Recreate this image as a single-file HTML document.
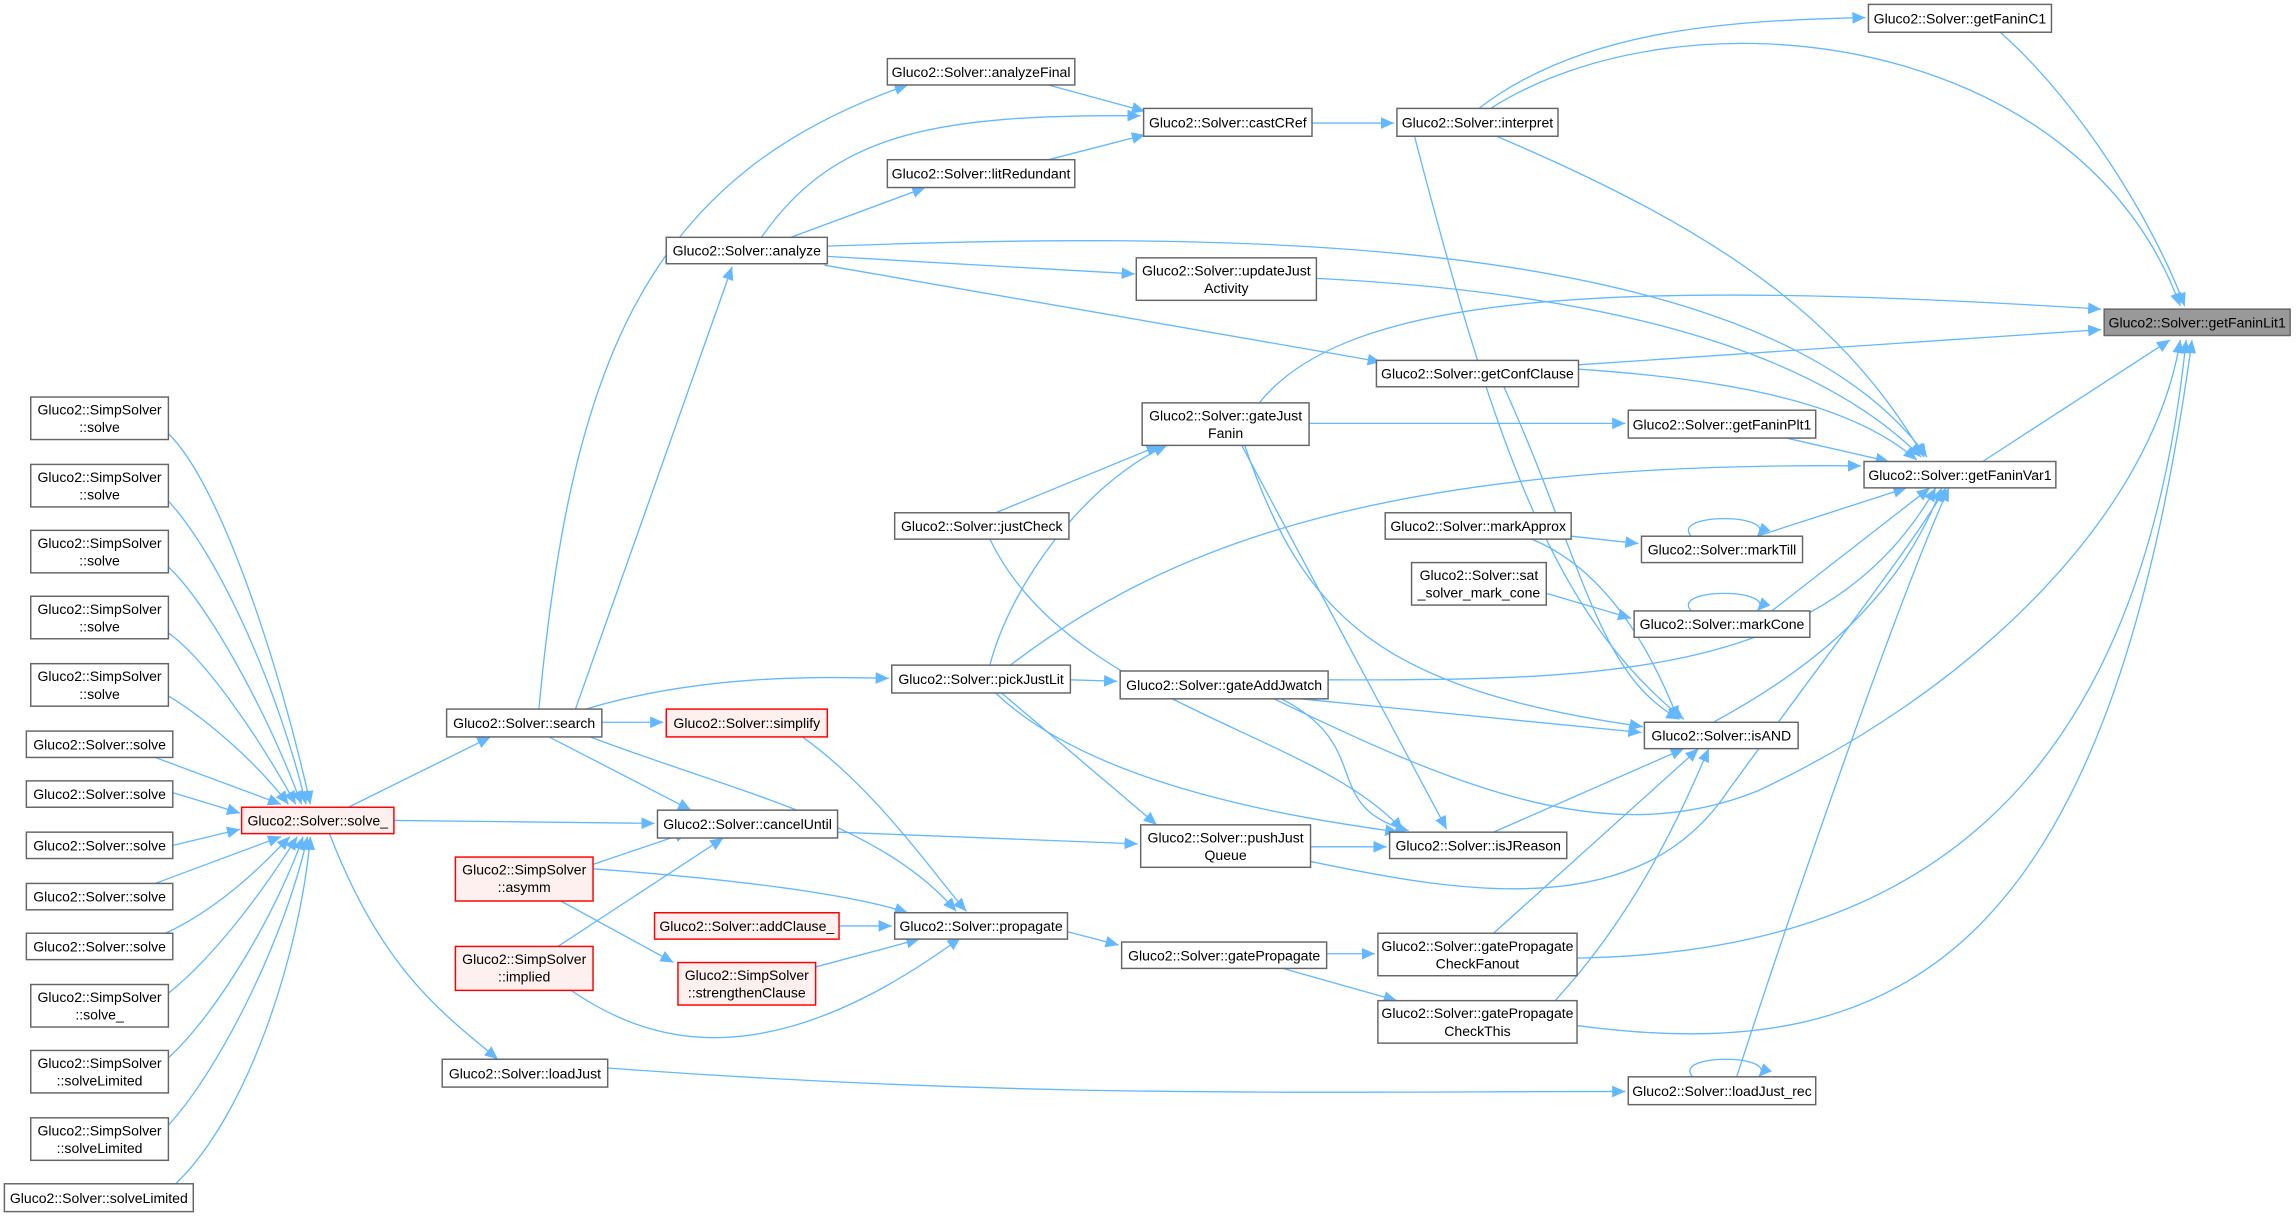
<!DOCTYPE html>
<html><head><meta charset="utf-8"><style>
html,body{margin:0;padding:0;background:#fff;}
svg{display:block;}
text{font-family:"Liberation Sans",sans-serif;font-size:9.6px;fill:#000;text-anchor:middle;}
.n{fill:#fff;stroke:#666;stroke-width:1;}
.r{fill:#fff0f0;stroke:#ff0000;stroke-width:1;}
.g{fill:#999;stroke:#666;stroke-width:1;}
path.e{fill:none;stroke:#63b8ff;stroke-width:0.9;}
</style></head><body>
<svg width="2296" height="1216" viewBox="0 0 1568 830" preserveAspectRatio="none" xmlns="http://www.w3.org/2000/svg">
<defs><marker id="a" markerUnits="userSpaceOnUse" markerWidth="10" markerHeight="8" refX="9" refY="4" orient="auto"><path d="M0,0 L9,4 L0,8 z" fill="#63b8ff"/></marker></defs>
<g marker-end="url(#a)">
<path class="e" d="M1366,22 C1420,70 1470,150 1492,209"/>
<path class="e" d="M1010,74 C1080,20 1180,14 1274,12"/>
<path class="e" d="M1018,74 C1150,-10 1420,20 1489,209"/>
<path class="e" d="M896,84 L952,84"/>
<path class="e" d="M716,58 L782,76"/>
<path class="e" d="M716,109 L782,92"/>
<path class="e" d="M520,162 C570,90 640,78 779,79"/>
<path class="e" d="M540,162 L632,128"/>
<path class="e" d="M368,484 C390,250 440,120 620,58"/>
<path class="e" d="M393,484 L500,182"/>
<path class="e" d="M565,175 L775,187"/>
<path class="e" d="M563,181 L943,247"/>
<path class="e" d="M565,168 C800,160 1200,150 1316,312"/>
<path class="e" d="M1022,93 C1180,160 1260,220 1314,312"/>
<path class="e" d="M899,190 C1100,200 1240,240 1312,312"/>
<path class="e" d="M860,275 C920,200 1100,190 1435,211"/>
<path class="e" d="M1078,249 L1435,225"/>
<path class="e" d="M1078,252 C1200,260 1270,280 1309,314"/>
<path class="e" d="M894,289 L1110,289"/>
<path class="e" d="M1220,299 L1290,315"/>
<path class="e" d="M1354,315 L1482,232"/>
<path class="e" d="M690,454 C800,370 950,315 1271,318"/>
<path class="e" d="M680,350 L792,304"/>
<path class="e" d="M676,454 C690,400 740,330 797,304"/>
<path class="e" d="M1073,366 L1119,371"/>
<path class="e" d="M1155,366 C1140,350 1215,350 1200,366"/>
<path class="e" d="M1200,366 L1302,333"/>
<path class="e" d="M1046,368 C1100,390 1130,450 1146,491"/>
<path class="e" d="M1056,405 L1114,422"/>
<path class="e" d="M1155,417 C1140,401 1215,401 1200,417"/>
<path class="e" d="M1210,417 L1318,333"/>
<path class="e" d="M907,464 C1100,465 1250,460 1322,333"/>
<path class="e" d="M888,477 L1121,500"/>
<path class="e" d="M875,477 C940,510 900,550 962,567"/>
<path class="e" d="M1170,493 C1250,450 1300,400 1326,333"/>
<path class="e" d="M870,477 C1000,540 1100,580 1200,540 C1350,470 1470,350 1489,232"/>
<path class="e" d="M895,588 C1000,610 1120,630 1180,540 C1260,430 1300,380 1329,333"/>
<path class="e" d="M1077,654 C1300,650 1460,550 1493,232"/>
<path class="e" d="M1077,700 C1300,730 1440,650 1497,232"/>
<path class="e" d="M1186,735 C1230,600 1300,400 1331,333"/>
<path class="e" d="M966,93 C1020,300 1060,420 1150,491"/>
<path class="e" d="M1027,264 C1080,380 1090,460 1147,491"/>
<path class="e" d="M1020,637 L1160,511"/>
<path class="e" d="M1062,683 C1120,620 1150,550 1167,511"/>
<path class="e" d="M1020,568 L1150,511"/>
<path class="e" d="M895,578 L947,578"/>
<path class="e" d="M848,304 L988,566"/>
<path class="e" d="M850,304 C890,420 940,470 1122,496"/>
<path class="e" d="M680,473 C750,540 900,560 955,568"/>
<path class="e" d="M684,473 L790,563"/>
<path class="e" d="M676,368 C730,480 900,500 958,567"/>
<path class="e" d="M572,568 L777,576"/>
<path class="e" d="M400,484 C480,460 560,462 607,463"/>
<path class="e" d="M411,493 L453,493"/>
<path class="e" d="M375,503 L472,553"/>
<path class="e" d="M403,503 C500,540 600,560 653,622"/>
<path class="e" d="M731,464 L763,465"/>
<path class="e" d="M238,551 L335,503"/>
<path class="e" d="M269,560 L447,562"/>
<path class="e" d="M225,569 C260,660 300,690 340,723"/>
<path class="e" d="M415,729 C700,750 900,745 1110,745"/>
<path class="e" d="M1156,735 C1141,719 1216,719 1201,735"/>
<path class="e" d="M548,503 C600,540 640,600 660,622"/>
<path class="e" d="M405,590 L470,568"/>
<path class="e" d="M405,593 C500,600 580,610 620,623"/>
<path class="e" d="M383,615 L460,657"/>
<path class="e" d="M381,646 L494,572"/>
<path class="e" d="M390,676 C440,710 520,740 656,640"/>
<path class="e" d="M573,632 L609,632"/>
<path class="e" d="M557,660 L628,641"/>
<path class="e" d="M729,636 L764,645"/>
<path class="e" d="M906,651 L939,651"/>
<path class="e" d="M876,661 L954,683"/>
<path class="e" d="M115,296 C150,330 190,450 212,549"/>
<path class="e" d="M115,342 C150,380 190,470 209,549"/>
<path class="e" d="M115,387 C140,410 180,480 206,549"/>
<path class="e" d="M115,432 C140,450 175,500 202,549"/>
<path class="e" d="M115,475 C140,490 175,520 197,549"/>
<path class="e" d="M106,517 L192,549"/>
<path class="e" d="M118,541 L164,555"/>
<path class="e" d="M118,577 L164,566"/>
<path class="e" d="M106,603 L192,571"/>
<path class="e" d="M113,637 C150,620 180,590 198,571"/>
<path class="e" d="M115,678 C150,650 185,600 203,571"/>
<path class="e" d="M115,722 C150,690 190,620 207,571"/>
<path class="e" d="M115,768 C150,730 195,640 210,571"/>
<path class="e" d="M120,808 C170,760 205,650 212,571"/>
</g>
<g>
<rect class="n" x="1276" y="3" width="125" height="19"/><text x="1338.5" y="16">Gluco2::Solver::getFaninC1</text>
<rect class="n" x="606" y="40" width="128" height="18"/><text x="670" y="52.5">Gluco2::Solver::analyzeFinal</text>
<rect class="n" x="781" y="74" width="115" height="19"/><text x="838.5" y="87">Gluco2::Solver::castCRef</text>
<rect class="n" x="954" y="74" width="110" height="19"/><text x="1009" y="87">Gluco2::Solver::interpret</text>
<rect class="n" x="606" y="109" width="128" height="19"/><text x="670" y="122">Gluco2::Solver::litRedundant</text>
<rect class="n" x="455" y="162" width="110" height="18"/><text x="510" y="174.5">Gluco2::Solver::analyze</text>
<rect class="n" x="776" y="176" width="123" height="29"/><text x="837.5" y="188">Gluco2::Solver::updateJust</text><text x="837.5" y="200">Activity</text>
<rect class="g" x="1437" y="211" width="127" height="18"/><text x="1500.5" y="223.5">Gluco2::Solver::getFaninLit1</text>
<rect class="n" x="940" y="246" width="138" height="18"/><text x="1009" y="258.5">Gluco2::Solver::getConfClause</text>
<rect class="n" x="780" y="275" width="114" height="29"/><text x="837" y="287">Gluco2::Solver::gateJust</text><text x="837" y="299">Fanin</text>
<rect class="n" x="1112" y="280" width="128" height="19"/><text x="1176" y="293">Gluco2::Solver::getFaninPlt1</text>
<rect class="n" x="1273" y="315" width="131" height="18"/><text x="1338.5" y="327.5">Gluco2::Solver::getFaninVar1</text>
<rect class="n" x="946" y="350" width="127" height="18"/><text x="1009.5" y="362.5">Gluco2::Solver::markApprox</text>
<rect class="n" x="611" y="350" width="119" height="18"/><text x="670.5" y="362.5">Gluco2::Solver::justCheck</text>
<rect class="n" x="1121" y="366" width="110" height="18"/><text x="1176" y="378.5">Gluco2::Solver::markTill</text>
<rect class="n" x="964" y="384" width="92" height="29"/><text x="1010" y="396">Gluco2::Solver::sat</text><text x="1010" y="408">_solver_mark_cone</text>
<rect class="n" x="1116" y="417" width="120" height="18"/><text x="1176" y="429.5">Gluco2::Solver::markCone</text>
<rect class="n" x="609" y="454" width="122" height="19"/><text x="670" y="467">Gluco2::Solver::pickJustLit</text>
<rect class="n" x="765" y="458" width="142" height="19"/><text x="836" y="471">Gluco2::Solver::gateAddJwatch</text>
<rect class="n" x="305" y="484" width="106" height="19"/><text x="358" y="497">Gluco2::Solver::search</text>
<rect class="r" x="455" y="484" width="110" height="19"/><text x="510" y="497">Gluco2::Solver::simplify</text>
<rect class="n" x="1123" y="493" width="105" height="18"/><text x="1175.5" y="505.5">Gluco2::Solver::isAND</text>
<rect class="r" x="165" y="551" width="104" height="18"/><text x="217" y="563.5">Gluco2::Solver::solve_</text>
<rect class="n" x="449" y="553" width="123" height="19"/><text x="510.5" y="566">Gluco2::Solver::cancelUntil</text>
<rect class="n" x="779" y="563" width="116" height="29"/><text x="837" y="575">Gluco2::Solver::pushJust</text><text x="837" y="587">Queue</text>
<rect class="n" x="949" y="568" width="121" height="18"/><text x="1009.5" y="580.5">Gluco2::Solver::isJReason</text>
<rect class="r" x="311" y="585" width="94" height="30"/><text x="358" y="597">Gluco2::SimpSolver</text><text x="358" y="609">::asymm</text>
<rect class="r" x="447" y="623" width="126" height="18"/><text x="510" y="635.5">Gluco2::Solver::addClause_</text>
<rect class="n" x="611" y="623" width="118" height="18"/><text x="670" y="635.5">Gluco2::Solver::propagate</text>
<rect class="n" x="766" y="643" width="140" height="18"/><text x="836" y="655.5">Gluco2::Solver::gatePropagate</text>
<rect class="n" x="941" y="637" width="136" height="29"/><text x="1009" y="649">Gluco2::Solver::gatePropagate</text><text x="1009" y="661">CheckFanout</text>
<rect class="r" x="311" y="646" width="94" height="30"/><text x="358" y="658">Gluco2::SimpSolver</text><text x="358" y="670">::implied</text>
<rect class="r" x="463" y="657" width="94" height="29"/><text x="510" y="669">Gluco2::SimpSolver</text><text x="510" y="681">::strengthenClause</text>
<rect class="n" x="941" y="683" width="136" height="29"/><text x="1009" y="695">Gluco2::Solver::gatePropagate</text><text x="1009" y="707">CheckThis</text>
<rect class="n" x="302" y="723" width="113" height="19"/><text x="358.5" y="736">Gluco2::Solver::loadJust</text>
<rect class="n" x="1112" y="735" width="128" height="19"/><text x="1176" y="748">Gluco2::Solver::loadJust_rec</text>
<rect class="n" x="21" y="271" width="94" height="29"/><text x="68" y="283">Gluco2::SimpSolver</text><text x="68" y="295">::solve</text>
<rect class="n" x="21" y="317" width="94" height="29"/><text x="68" y="329">Gluco2::SimpSolver</text><text x="68" y="341">::solve</text>
<rect class="n" x="21" y="362" width="94" height="29"/><text x="68" y="374">Gluco2::SimpSolver</text><text x="68" y="386">::solve</text>
<rect class="n" x="21" y="407" width="94" height="29"/><text x="68" y="419">Gluco2::SimpSolver</text><text x="68" y="431">::solve</text>
<rect class="n" x="21" y="453" width="94" height="29"/><text x="68" y="465">Gluco2::SimpSolver</text><text x="68" y="477">::solve</text>
<rect class="n" x="18" y="499" width="100" height="18"/><text x="68" y="511.5">Gluco2::Solver::solve</text>
<rect class="n" x="18" y="533" width="100" height="18"/><text x="68" y="545.5">Gluco2::Solver::solve</text>
<rect class="n" x="18" y="568" width="100" height="18"/><text x="68" y="580.5">Gluco2::Solver::solve</text>
<rect class="n" x="18" y="603" width="100" height="18"/><text x="68" y="615.5">Gluco2::Solver::solve</text>
<rect class="n" x="18" y="637" width="100" height="18"/><text x="68" y="649.5">Gluco2::Solver::solve</text>
<rect class="n" x="21" y="672" width="94" height="29"/><text x="68" y="684">Gluco2::SimpSolver</text><text x="68" y="696">::solve_</text>
<rect class="n" x="21" y="717" width="94" height="29"/><text x="68" y="729">Gluco2::SimpSolver</text><text x="68" y="741">::solveLimited</text>
<rect class="n" x="21" y="763" width="94" height="29"/><text x="68" y="775">Gluco2::SimpSolver</text><text x="68" y="787">::solveLimited</text>
<rect class="n" x="3" y="808" width="129" height="19"/><text x="67.5" y="821">Gluco2::Solver::solveLimited</text>
</g>
</svg>
</body></html>
